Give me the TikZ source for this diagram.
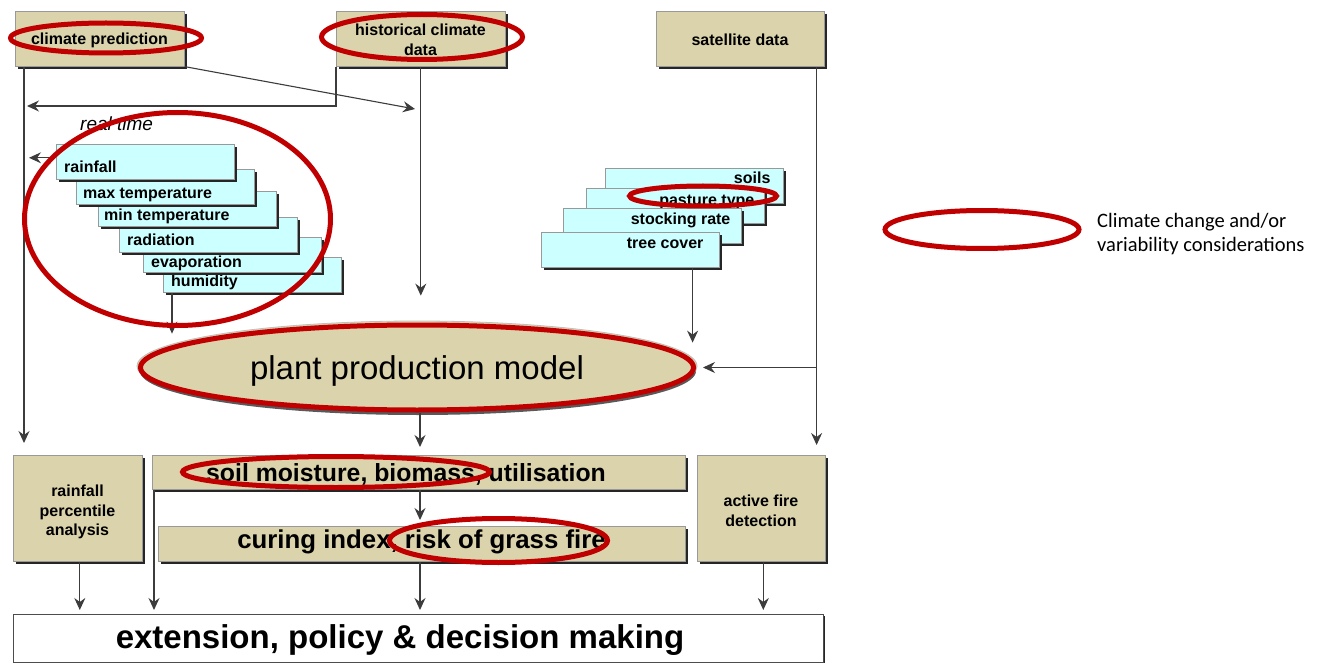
\documentclass[tikz,border=0pt]{standalone}
\usepackage{fontspec}
\setmainfont{Liberation Sans}
\newfontfamily\calib{Carlito}
\usetikzlibrary{shapes.geometric,arrows.meta,shadows,calc}
\definecolor{tanc}{RGB}{218,211,171}
\definecolor{cyanc}{RGB}{204,255,255}
\definecolor{climred}{RGB}{192,0,0}
\definecolor{linec}{RGB}{60,60,60}
\begin{document}
\begin{tikzpicture}[x=1pt,y=-1pt,
  tanbox/.style={draw=black!40, line width=0.6pt, fill=tanc, anchor=north west, inner sep=0pt,
    font=\bfseries\fontsize{16}{20}\selectfont, align=center,
    general shadow={fill=black!85, shadow xshift=2.5pt, shadow yshift=-2.5pt}},
  boxtxt/.style={font=\bfseries\fontsize{16}{19.5}\selectfont, align=center, inner sep=0pt},
  stairbox/.style={draw=black!40, line width=0.6pt, fill=cyanc, anchor=north west, inner sep=0pt,
    minimum width=178pt, minimum height=35pt,
    general shadow={fill=black!85, shadow xshift=2.5pt, shadow yshift=-2.5pt}},
  stairtxt/.style={font=\bfseries\fontsize{16}{19}\selectfont, inner sep=0pt},
  conn/.style={draw=linec, line width=1.1pt},
  arr/.style={conn, -{Stealth[length=12pt,width=11pt,inset=4pt]}},
  climate/.style={ellipse, draw=climred, line width=5pt, inner sep=0pt},
  bigtxt/.style={font=\bfseries\fontsize{24.8}{28}\selectfont, inner sep=0pt}
]
\fill[white] (0,0) rectangle (1331,663);
\useasboundingbox (0,0) rectangle (1331,663);

% top boxes
\node[tanbox, minimum width=169pt, minimum height=55pt] (cp) at (15,11) {};
\node[boxtxt] (cpt) at (99.5,40.5) {climate prediction};
\node[tanbox, minimum width=169pt, minimum height=55pt] (hist) at (336,11) {};
\node[boxtxt] (histt) at (420.5,40) {historical climate\\data};
\node[tanbox, minimum width=168pt, minimum height=55pt] (sat) at (656,11) {};
\node[boxtxt] (satt) at (740,40) {satellite data};

\node[font=\itshape\fontsize{19}{21}\selectfont, anchor=west, inner sep=0pt] (rt) at (80,124) {real time};

% left stairs
\node[stairbox] (hum) at (163,257) {};
\node[stairtxt, anchor=base west] (humt) at ($(hum.south west)+(8,-6)$) {humidity};
\node[stairbox] (evap) at (143,237) {};
\node[stairtxt, anchor=base west] (evapt) at ($(evap.south west)+(8,-5)$) {evaporation};
\node[stairbox] (rad) at (119,217) {};
\node[stairtxt, anchor=base west] (radt) at ($(rad.south west)+(8,-7)$) {radiation};
\node[stairbox] (mint) at (98,191) {};
\node[stairtxt, anchor=base west] (mintt) at ($(mint.south west)+(6,-6)$) {min temperature};
\node[stairbox] (maxt) at (76,169) {};
\node[stairtxt, anchor=base west] (maxtt) at ($(maxt.south west)+(7,-6)$) {max temperature};
\node[stairbox] (rain) at (56,144) {};
\node[stairtxt, anchor=base west] (raint) at ($(rain.south west)+(8,-7)$) {rainfall};

% right stairs
\node[stairbox] (soils) at (605,168) {};
\node[stairtxt, anchor=base east] (soilst) at ($(soils.north east)+(-13,16)$) {soils};
\node[stairbox] (past) at (586,188) {};
\node[stairtxt, anchor=base east] (pastt) at ($(past.north east)+(-10,17.5)$) {pasture type};
\node[stairbox] (stock) at (563,208) {};
\node[stairtxt, anchor=base east] (stockt) at ($(stock.north east)+(-11,17)$) {stocking rate};
\node[stairbox] (tree) at (541,232) {};
\node[stairtxt, anchor=base east] (treet) at ($(tree.north east)+(-16,16.5)$) {tree cover};

% plant production model
\node[ellipse, fill=black!65, minimum width=556pt, minimum height=88pt, inner sep=0pt] (ppmsh) at (418,371) {};
\node[ellipse, fill=tanc, draw=black!25, line width=0.8pt, minimum width=560pt, minimum height=90pt, inner sep=0pt] (ppmout) at (417,366) {};
\node[ellipse, fill=tanc, draw=climred, line width=5pt, minimum width=553pt, minimum height=85pt, inner sep=0pt] (ppm) at (417,367.5) {};
\node[font=\fontsize{33}{40}\selectfont, inner sep=0pt] (ppmt) at (417,371) {plant production model};

% bottom boxes
\node[tanbox, minimum width=129pt, minimum height=106pt] (rp) at (13,455) {};
\node[boxtxt] (rpt) at (77.5,512) {rainfall\\percentile\\analysis};
\node[tanbox, minimum width=533pt, minimum height=34pt] (soil) at (152,455) {};
\node[bigtxt] (soiltxt) at (406,474) {soil moisture, biomass, utilisation};
\node[tanbox, minimum width=527pt, minimum height=35pt] (cur) at (158,526) {};
\node[bigtxt, font=\bfseries\fontsize{25.8}{28}\selectfont] (curtxt) at (421.5,542) {curing index, risk of grass fire};
\node[tanbox, minimum width=128pt, minimum height=106pt] (afd) at (697,455) {};
\node[boxtxt] (afdt) at (761,511) {active fire\\detection};
\node[draw=black!70, line width=0.8pt, fill=white, anchor=north west, minimum width=810pt, minimum height=48pt, inner sep=0pt,
  general shadow={fill=black!85, shadow xshift=2pt, shadow yshift=-2pt}] (ext) at (13,614) {};
\node[font=\bfseries\fontsize{33}{38}\selectfont, inner sep=0pt] (exttxt) at (400,640) {extension, policy \& decision making};

% connectors
\coordinate (cpL) at ([xshift=9pt]cp.south west);
\coordinate (rtEnd) at (415,109);
\coordinate (rtLeft) at (24,106);
\coordinate (midX) at (420,0);
\coordinate (satL) at ([xshift=-8pt]sat.south east);
\coordinate (soilL) at ([xshift=2pt]soil.south west);
\coordinate (rainW) at ([yshift=4pt]rain.west);
\coordinate (rpS) at ([xshift=2pt]rp.south);
\coordinate (afdS) at ([xshift=2pt]afd.south);

\draw[arr, shorten >=12pt] (cpL) -- (cpL |- rp.north);
\draw[arr] (cp.south east) -- (rtEnd);
\draw[arr, shorten >=3pt] (hist.south west) |- (rtLeft);
\draw[arr] (hist.south) -- ++(0,229);
\draw[arr, shorten >=5pt] (rainW) -- (cpL |- rainW);
\draw[arr] ([xshift=9pt]hum.south west) -- ++(0,41);
\draw[arr] ([xshift=-27pt]tree.south east) -- ++(0,75);
\draw[arr, shorten >=10pt] (satL) -- (satL |- afd.north);
\draw[arr, shorten >=7pt] (satL |- ppm.east) -- (ppm.east);
\draw[arr, shorten >=8pt] (ppm.south -| midX) -- (soil.north -| midX);
\draw[arr, shorten >=6pt] (soil.south -| midX) -- (cur.north -| midX);
\draw[arr, shorten >=4pt] (cur.south -| midX) -- (ext.north -| midX);
\draw[arr, shorten >=4pt] (soilL) -- (soilL |- ext.north);
\draw[arr, shorten >=4pt] (rpS) -- (rpS |- ext.north);
\draw[arr, shorten >=4pt] (afdS) -- (afdS |- ext.north);

% climate change / variability highlights
\node[climate, minimum width=191pt, minimum height=30pt] (e1) at (106,38) {};
\node[climate, minimum width=201pt, minimum height=45pt] (e2) at (422,37) {};
\node[climate, minimum width=306pt, minimum height=213pt] (e3) at (177.5,219) {};
\node[climate, minimum width=147pt, minimum height=20pt] (e4) at (703,196) {};
\node[climate, minimum width=307pt, minimum height=31pt] (e5) at (336,472) {};
\node[climate, minimum width=218pt, minimum height=44pt] (e6) at (498.5,540.5) {};

% legend
\node[climate, minimum width=194pt, minimum height=38pt] (leg) at (982,229.5) {};
\node[anchor=west, font=\calib\fontsize{20.5}{24}\selectfont, align=left, inner sep=0pt] (legtxt) at (1097,234) {Climate change and/or\\variability considerations};
\end{tikzpicture}
\end{document}
